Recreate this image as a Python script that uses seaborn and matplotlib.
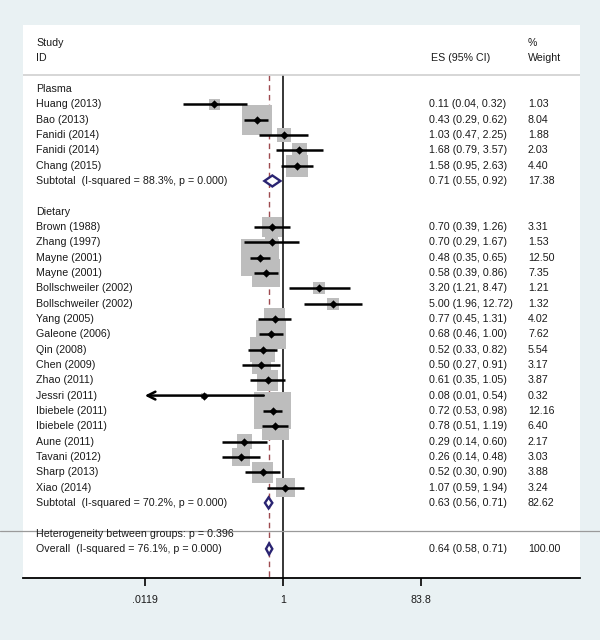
import numpy as np
import pandas as pd
import matplotlib
matplotlib.use("Agg")
import matplotlib.pyplot as plt
import seaborn as sns
from matplotlib.patches import Polygon
from matplotlib.ticker import NullLocator

# ---------------- data ----------------
group_names = ["Plasma", "Dietary"]

plasma_study = ["Huang (2013)", "Bao (2013)", "Fanidi (2014)", "Fanidi (2014)", "Chang (2015)"]
plasma_es = [0.11, 0.43, 1.03, 1.68, 1.58]
plasma_lo = [0.04, 0.29, 0.47, 0.79, 0.95]
plasma_hi = [0.32, 0.62, 2.25, 3.57, 2.63]
plasma_w = [1.03, 8.04, 1.88, 2.03, 4.40]
plasma_sub = (0.71, 0.55, 0.92, 17.38)
plasma_i2 = "Subtotal  (I-squared = 88.3%, p = 0.000)"

diet_study = ["Brown (1988)", "Zhang (1997)", "Mayne (2001)", "Mayne (2001)",
              "Bollschweiler (2002)", "Bollschweiler (2002)", "Yang (2005)",
              "Galeone (2006)", "Qin (2008)", "Chen (2009)", "Zhao (2011)",
              "Jessri (2011)", "Ibiebele (2011)", "Ibiebele (2011)", "Aune (2011)",
              "Tavani (2012)", "Sharp (2013)", "Xiao (2014)"]
diet_es = [0.70, 0.70, 0.48, 0.58, 3.20, 5.00, 0.77, 0.68, 0.52, 0.50, 0.61,
           0.08, 0.72, 0.78, 0.29, 0.26, 0.52, 1.07]
diet_lo = [0.39, 0.29, 0.35, 0.39, 1.21, 1.96, 0.45, 0.46, 0.33, 0.27, 0.35,
           0.01, 0.53, 0.51, 0.14, 0.14, 0.30, 0.59]
diet_hi = [1.26, 1.67, 0.65, 0.86, 8.47, 12.72, 1.31, 1.00, 0.82, 0.91, 1.05,
           0.54, 0.98, 1.19, 0.60, 0.48, 0.90, 1.94]
diet_w = [3.31, 1.53, 12.50, 7.35, 1.21, 1.32, 4.02, 7.62, 5.54, 3.17, 3.87,
          0.32, 12.16, 6.40, 2.17, 3.03, 3.88, 3.24]
diet_sub = (0.63, 0.56, 0.71, 82.62)
diet_i2 = "Subtotal  (I-squared = 70.2%, p = 0.000)"

het_text = "Heterogeneity between groups: p = 0.396"
overall = (0.64, 0.58, 0.71, 100.00)
overall_i2 = "Overall  (I-squared = 76.1%, p = 0.000)"

tick_vals = [0.0119, 1, 83.8]
tick_labels = [".0119", "1", "83.8"]

# ---------------- build rows ----------------
studies = []
subtotals = []
labels = []  # (row, text, bold)
row = 0
for gname, st, es, lo, hi, w, sub, i2 in [
        (group_names[0], plasma_study, plasma_es, plasma_lo, plasma_hi, plasma_w, plasma_sub, plasma_i2),
        (group_names[1], diet_study, diet_es, diet_lo, diet_hi, diet_w, diet_sub, diet_i2)]:
    labels.append((row, gname, None, None))
    row += 1
    for s, e, l, h, ww in zip(st, es, lo, hi, w):
        studies.append(dict(study=s, es=e, lo=l, hi=h, weight=ww, row=row))
        labels.append((row, s, f"{e:.2f} ({l:.2f}, {h:.2f})", f"{ww:.2f}"))
        row += 1
    subtotals.append(dict(es=sub[0], lo=sub[1], hi=sub[2], row=row))
    labels.append((row, i2, f"{sub[0]:.2f} ({sub[1]:.2f}, {sub[2]:.2f})", f"{sub[3]:.2f}"))
    row += 2
het_row = row
labels.append((het_row, het_text, None, None))
row += 1
subtotals.append(dict(es=overall[0], lo=overall[1], hi=overall[2], row=row))
labels.append((row, overall_i2, f"{overall[0]:.2f} ({overall[1]:.2f}, {overall[2]:.2f})", f"{overall[3]:.2f}"))
df = pd.DataFrame(studies)

# ---------------- style ----------------
sns.set_theme(style="white")
plt.rcParams["font.family"] = ["Liberation Sans", "DejaVu Sans"]
BG = "#e9f1f3"
TXT = "#1a1a1a"
FS = 7.7

fig = plt.figure(figsize=(6, 6.4), dpi=100, facecolor=BG)
ax = fig.add_axes([23 / 600, 1 - 578 / 640, 557 / 600, 553 / 640])
ax.set_facecolor("white")

xmin_plot, xmax_plot = tick_vals[0], tick_vals[-1]
hdr_line = -0.92
ybot = 31.9

# reference lines
ax.vlines(1, hdr_line, ybot, color="black", lw=1.1, zorder=1)
ax.vlines(overall[0], hdr_line, ybot, color="#9e4a4f", lw=1.0,
          linestyles=(0, (4, 3)), zorder=1)

# weight boxes
sns.scatterplot(data=df, x="es", y="row", size="weight", sizes=(0, 58 * 13),
                size_norm=(0, 13), marker="s", color="#bdbdbd", edgecolor="none",
                linewidth=0, legend=False, ax=ax, zorder=2)

# confidence intervals
for _, r in df.iterrows():
    if r["lo"] < xmin_plot:
        ax.annotate("", xy=(xmin_plot, r["row"]), xytext=(r["hi"], r["row"]),
                    arrowprops=dict(arrowstyle="->", lw=1.8, color="black",
                                    shrinkA=0, shrinkB=0, mutation_scale=14),
                    zorder=3)
    else:
        ax.hlines(r["row"], r["lo"], min(r["hi"], xmax_plot), color="black",
                  lw=1.8, zorder=3)

# point estimates
sns.scatterplot(data=df, x="es", y="row", marker="D", s=18, color="black",
                edgecolor="black", linewidth=0, legend=False, ax=ax, zorder=4)

# diamonds
for s in subtotals:
    h = 0.36
    poly = Polygon([(s["lo"], s["row"]), (s["es"], s["row"] - h),
                    (s["hi"], s["row"]), (s["es"], s["row"] + h)],
                   closed=True, facecolor="white", edgecolor="#2a2472", lw=1.7,
                   zorder=5)
    ax.add_patch(poly)

# separators
ax.axhline(hdr_line, xmin=0, xmax=1, color="#cfcfcf", lw=1.2, zorder=1)
ax.axhline(het_row - 0.17, xmin=-23 / 557, xmax=577 / 557, color="#9a9a9a",
           lw=0.9, clip_on=False, zorder=1)

# text columns
tr = ax.get_yaxis_transform()
x_lab, x_es, x_w = 0.0233, 0.729, 0.9066
ax.text(x_lab, -3, "Study", transform=tr, ha="left", va="center", fontsize=FS, color=TXT)
ax.text(x_lab, -2, "ID", transform=tr, ha="left", va="center", fontsize=FS, color=TXT)
ax.text(x_es + 0.003, -2, "ES (95% CI)", transform=tr, ha="left", va="center", fontsize=FS, color=TXT)
ax.text(x_w, -3, "%", transform=tr, ha="left", va="center", fontsize=FS, color=TXT)
ax.text(x_w, -2, "Weight", transform=tr, ha="left", va="center", fontsize=FS, color=TXT)
for r, lab, es_t, w_t in labels:
    ax.text(x_lab, r, lab, transform=tr, ha="left", va="center", fontsize=FS, color=TXT)
    if es_t:
        ax.text(x_es, r, es_t, transform=tr, ha="left", va="center", fontsize=FS, color=TXT)
        ax.text(x_w, r, w_t, transform=tr, ha="left", va="center", fontsize=FS, color=TXT)

# axes
ax.set_xscale("log")
ax.set_xlim(10 ** -3.621, 10 ** 4.136)
ax.set_ylim(ybot, -4.175)
ax.set_xticks(tick_vals)
ax.set_xticklabels(tick_labels)
ax.xaxis.set_minor_locator(NullLocator())
ax.set_yticks([])
ax.set_xlabel("")
ax.set_ylabel("")
for side in ["top", "left", "right"]:
    ax.spines[side].set_visible(False)
ax.spines["bottom"].set_color("black")
ax.spines["bottom"].set_linewidth(1.3)
ax.tick_params(axis="x", bottom=True, length=6, width=1.2, color="black",
               labelsize=FS, labelcolor=TXT, pad=6, direction="out")

fig.savefig("out.png", dpi=100, facecolor=BG)
